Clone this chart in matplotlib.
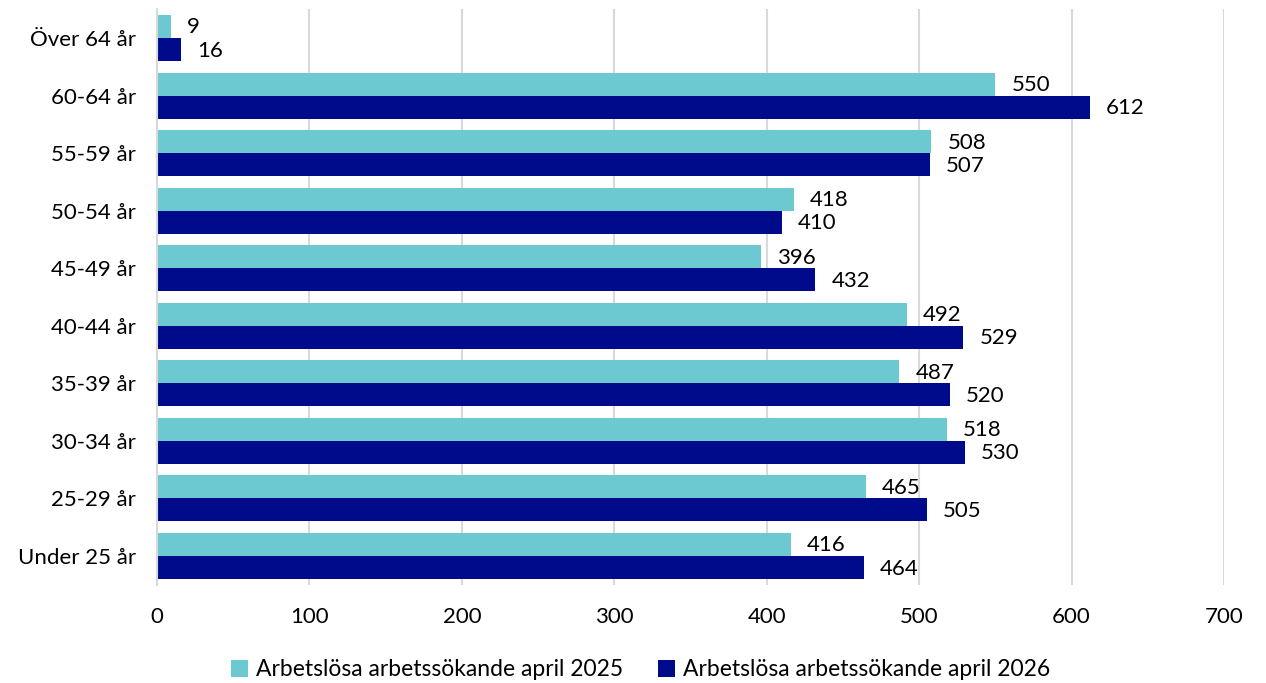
import numpy as np
import matplotlib
matplotlib.use('Agg')
import matplotlib.pyplot as plt

plt.rcParams['font.family'] = ['Lato', 'DejaVu Sans']

categories = ['Under 25 år', '25-29 år', '30-34 år', '35-39 år', '40-44 år',
              '45-49 år', '50-54 år', '55-59 år', '60-64 år', 'Över 64 år']
values_2025 = [416, 465, 518, 487, 492, 396, 418, 508, 550, 9]
values_2026 = [464, 505, 530, 520, 529, 432, 410, 507, 612, 16]
series_names = ['Arbetslösa arbetssökande april 2025', 'Arbetslösa arbetssökande april 2026']
colors = ['#6cc8d1', '#000b8c']

fig = plt.figure(figsize=(12.66, 6.83), dpi=100)
ax = fig.add_axes([0.124, 0.1438, 0.8428, 0.8427])

y = np.arange(len(categories))
h = 0.4
b1 = ax.barh(y + h / 2, values_2025, height=h, color=colors[0], label=series_names[0])
b2 = ax.barh(y - h / 2, values_2026, height=h, color=colors[1], label=series_names[1])

# value labels right of each bar
for bars in (b1, b2):
    for rect in bars:
        w = rect.get_width()
        ax.annotate(str(int(w)), (w, rect.get_y() + rect.get_height() / 2),
                    xytext=(16, -1), textcoords='offset pixels',
                    ha='left', va='center', fontsize=16, color='#000000')

ax.set_xlim(0, 700)
ax.set_ylim(-0.5, len(categories) - 0.5)
ax.set_xticks(np.arange(0, 701, 100))
ax.set_yticks(y)
ax.set_yticklabels(categories)
ax.tick_params(axis='both', length=0, labelsize=16, colors='#000000')
ax.tick_params(axis='x', pad=16)
ax.tick_params(axis='y', pad=15)
ax.xaxis.grid(True, color='#d9d9d9', linewidth=1.5)
ax.set_axisbelow(True)
for s in ['top', 'right', 'bottom']:
    ax.spines[s].set_visible(False)
ax.spines['left'].set_color('#d9d9d9')
ax.spines['left'].set_linewidth(1.5)

fig.legend(handles=[b1, b2], loc='lower center', bbox_to_anchor=(0.506, -0.026), ncol=2,
           frameon=False, fontsize=16.5, handlelength=0.75, handleheight=0.75,
           handletextpad=0.35, columnspacing=1.5)

fig.savefig('out.png', dpi=100)
